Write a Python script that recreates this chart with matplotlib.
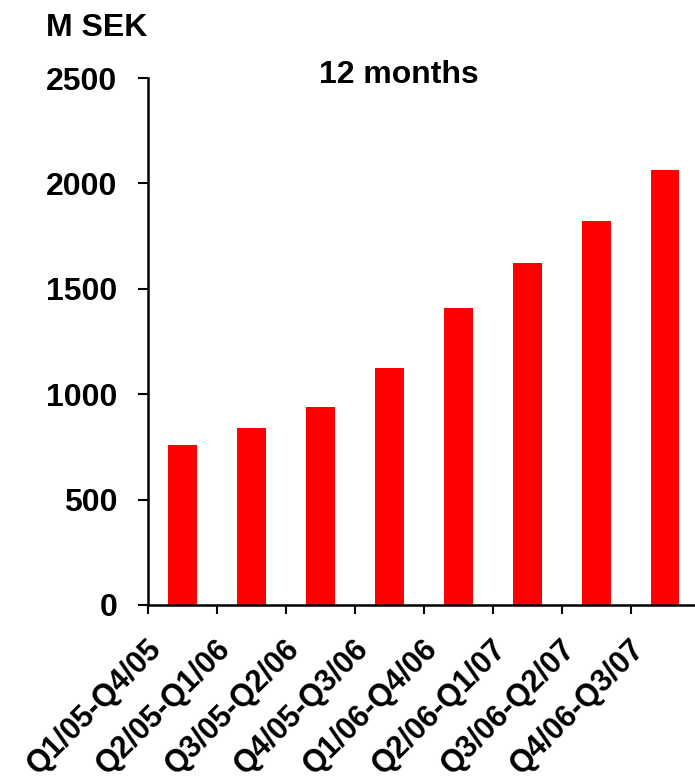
import numpy as np
import matplotlib.pyplot as plt
import matplotlib.transforms as mtransforms

# Rolling 12-month values (M SEK)
periods = ["Q1/05-Q4/05", "Q2/05-Q1/06", "Q3/05-Q2/06", "Q4/05-Q3/06",
           "Q1/06-Q4/06", "Q2/06-Q1/07", "Q3/06-Q2/07", "Q4/06-Q3/07"]
values = [757, 838, 937, 1126, 1410, 1623, 1822, 2063]
y_ticks = [0, 500, 1000, 1500, 2000, 2500]

plt.rcParams['font.family'] = ['Liberation Sans', 'DejaVu Sans']
plt.rcParams['font.weight'] = 'bold'

fig = plt.figure(figsize=(6.95, 7.8), dpi=100)
ax = fig.add_axes([148 / 695, 1 - 605 / 780, 1 - 148 / 695, (605 - 78) / 780])

x = np.arange(len(periods))
ax.bar(x, values, width=0.41, color="#ff0000")

ax.set_ylim(0, 2500)
ax.set_xlim(-0.5, 7.43)
ax.set_yticks(y_ticks)
ax.set_yticklabels([str(v) for v in y_ticks], fontsize=23, fontweight='bold')
ax.tick_params(axis='y', length=7.2, width=1.5, pad=15)

# boundary ticks (major) without labels, category labels on minor ticks
ax.set_xticks(np.arange(len(periods)) - 0.5)
ax.set_xticklabels([])
ax.tick_params(axis='x', which='major', length=6.5, width=1.5)
ax.set_xticks(x, minor=True)
ax.set_xticklabels(periods, minor=True, rotation=45, ha='right',
                   rotation_mode='anchor', fontsize=22, fontweight='bold')
ax.tick_params(axis='x', which='minor', length=0, pad=21)
offset = mtransforms.ScaledTranslation(-36 / 100, 0, fig.dpi_scale_trans)
for lbl in ax.get_xticklabels(minor=True):
    lbl.set_transform(lbl.get_transform() + offset)

for side in ['top', 'right']:
    ax.spines[side].set_visible(False)
ax.spines['left'].set_linewidth(1.8)
ax.spines['bottom'].set_linewidth(1.8)

fig.text(97 / 695, 1 - 28 / 780, "M SEK", ha='center', va='center',
         fontsize=23, fontweight='bold')
fig.text(399 / 695, 1 - 75 / 780, "12 months", ha='center', va='center',
         fontsize=23, fontweight='bold')

plt.savefig("out.png", dpi=100)
